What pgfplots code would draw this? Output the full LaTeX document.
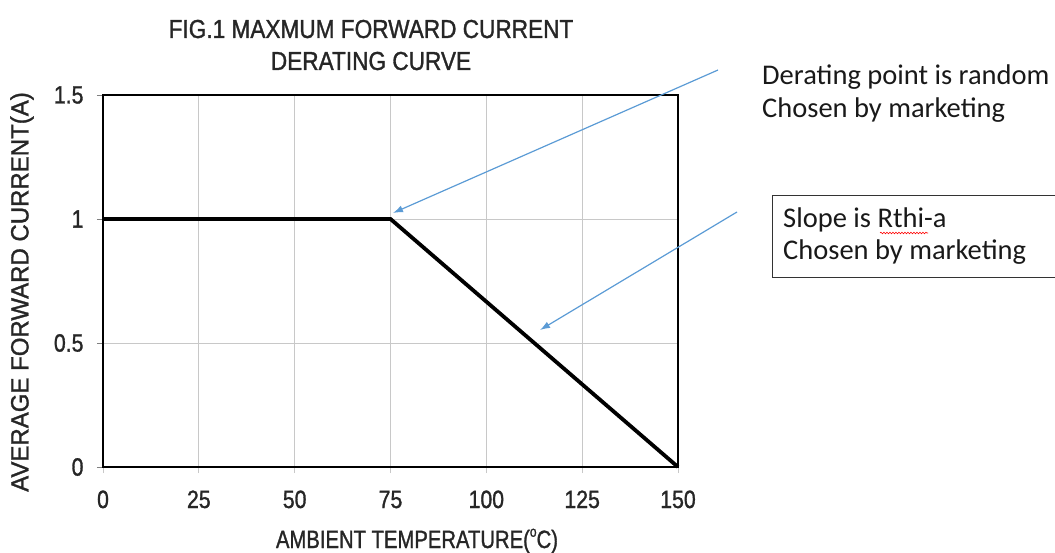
\documentclass[border=0pt]{standalone}
\usepackage{fontspec}
\setmainfont{Liberation Sans}
\newfontfamily\narrow[FakeStretch=0.85,FakeBold=1.2]{Liberation Sans}
\newfontfamily\xlabfont[FakeStretch=0.81,FakeBold=1.2]{Liberation Sans}
\newfontfamily\titlefont[FakeStretch=0.87,FakeBold=1.2]{Liberation Sans}
\newfontfamily\ylabfont[FakeStretch=0.96,FakeBold=1.2]{Liberation Sans}
\newfontfamily\calib{Carlito}
\usepackage{pgfplots}
\pgfplotsset{compat=1.18}
\usetikzlibrary{arrows.meta,decorations.pathmorphing}
\definecolor{arrowblue}{HTML}{5B9BD5}
\definecolor{gridgray}{HTML}{C8C8C8}
\begin{document}
\begin{tikzpicture}[x=1pt,y=1pt]
\useasboundingbox (-103,-85) rectangle (952,467);
\begin{axis}[
  at={(0,0)}, anchor=origin,
  scale only axis, width=575pt, height=372pt,
  xmin=0, xmax=150, ymin=0, ymax=1.5,
  xtick={0,25,50,75,100,125,150},
  xticklabels={0,25,50,75,100,125,150},
  ytick={0,0.5,1,1.5},
  yticklabels={0,0.5,1,1.5},
  grid=major,
  grid style={gridgray, line width=0.8pt},
  axis line style={black, line width=1.2pt},
  tick align=outside,
  major tick length=6pt,
  xtick style={gridgray, line width=0.8pt},
  ytick style={gray, line width=0.8pt},
  xtick pos=bottom, ytick pos=left,
  ticklabel style={font=\narrow\fontsize{25}{30}\selectfont, text=black!85},
  xticklabel style={anchor=base, yshift=-35pt},
  yticklabel style={anchor=east, xshift=-10pt},
  clip=false,
]
\addplot[black, line width=3.8pt, line join=miter] coordinates {(0,1) (75,1) (150,0)};
\end{axis}
% title
\node[anchor=base, font=\titlefont\fontsize{26}{30}\selectfont, text=black!85] at (268,429) {FIG.1 MAXMUM FORWARD CURRENT};
\node[anchor=base, font=\titlefont\fontsize{26}{30}\selectfont, text=black!85] at (268,397) {DERATING CURVE};
% axis labels
\node[rotate=90, font=\ylabfont\fontsize{25}{30}\selectfont, text=black!85] at (-81,175) {AVERAGE FORWARD CURRENT(A)};
\node[anchor=base, font=\xlabfont\fontsize{25}{30}\selectfont, text=black!85] at (314,-81) {AMBIENT TEMPERATURE(\raisebox{0.45em}{\fontsize{15}{15}\selectfont o}C)};
% annotations
\draw[arrowblue, line width=1.2pt, -{Latex[length=10pt,width=7pt]}] (615,397) -- (290,254);
\draw[arrowblue, line width=1.2pt, -{Latex[length=10pt,width=7pt]}] (634,255) -- (437,137);
\node[anchor=base west, inner sep=0pt, font=\calib\fontsize{28.5}{32}\selectfont, text=black!90] at (659,382) {Derating point is random};
\node[anchor=base west, inner sep=0pt, font=\calib\fontsize{28.5}{32}\selectfont, text=black!90] at (659,349) {Chosen by marketing};
\draw[black!80, line width=1pt] (955,271) -- (669,271) -- (669,189) -- (955,189);
\node[anchor=base west, inner sep=0pt, font=\calib\fontsize{28.5}{32}\selectfont, text=black!90] at (680,239) {Slope is Rthi-a};
\node[anchor=base west, inner sep=0pt, font=\calib\fontsize{28.5}{32}\selectfont, text=black!90] at (680,207) {Chosen by marketing};
\draw[red, line width=0.6pt, decorate, decoration={snake, segment length=3pt, amplitude=0.8pt}] (777,234) -- (825,234);
\end{tikzpicture}
\end{document}
